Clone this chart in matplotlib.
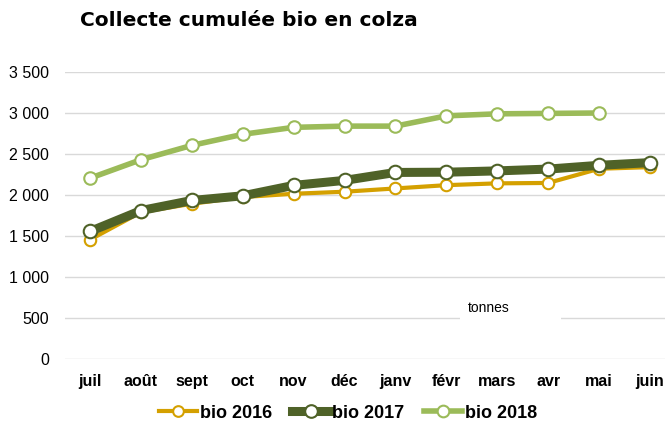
import matplotlib
matplotlib.use("Agg")
import matplotlib.pyplot as plt
from matplotlib.lines import Line2D
from matplotlib.patches import Rectangle

months = ["juil", "août", "sept", "oct", "nov", "déc", "janv", "févr", "mars", "avr", "mai", "juin"]
bio_2016 = [1455, 1790, 1893, 1975, 2015, 2040, 2080, 2120, 2142, 2147, 2320, 2340]
bio_2017 = [1555, 1810, 1933, 1990, 2117, 2178, 2275, 2278, 2294, 2316, 2362, 2395]
bio_2018 = [2205, 2430, 2605, 2740, 2825, 2840, 2840, 2965, 2990, 2995, 3000]
yticks = [0, 500, 1000, 1500, 2000, 2500, 3000, 3500]

plt.rcParams['font.family'] = ['Liberation Sans', 'DejaVu Sans']

W, H = 665, 423
fig = plt.figure(figsize=(W / 100, H / 100), dpi=100)
ax = fig.add_axes([64.5 / W, 1 - 359 / H, (665 - 64.5) / W, (359 - 72) / H])
step = (650 - 90) / 11

x = list(range(len(months)))
series = [
    (bio_2016, "#D4A000", 3, 11, "bio 2016"),
    (bio_2017, "#4F6228", 6.5, 13, "bio 2017"),
    (bio_2018, "#9BBB59", 4, 12, "bio 2018"),
]
for vals, col, lw, ms, lab in series:
    ax.plot(x[:len(vals)], vals, color=col, lw=lw, marker="o", ms=ms * 0.75,
            mfc="white", mec=col, mew=1.5, solid_capstyle="round", zorder=3)

ax.set_xlim(-0.5, (665 - 90) / step)
ax.set_ylim(0, 3500)
ax.set_yticks(yticks)
ax.set_yticklabels([f"{v:,}".replace(",", " ") for v in yticks], fontsize=11.5)
ax.set_xticks(x)
ax.set_xticklabels(months, fontsize=11.5, fontweight="bold")
ax.tick_params(length=0)
ax.tick_params(axis="x", pad=11)
ax.tick_params(axis="y", pad=11)
ax.grid(axis="y", color="#D9D9D9", lw=1)
ax.set_axisbelow(True)
for s in ax.spines.values():
    s.set_visible(False)

# white label box over the 500 gridline
bx0 = (460 - 90) / step
bx1 = (561 - 90) / step
ax.add_patch(Rectangle((bx0, 420), bx1 - bx0, 180, facecolor="white",
                       edgecolor="none", zorder=1.5))
ax.text((468 - 90) / step, (359 - 308) * 3500 / 287, "tonnes", ha="left",
        va="center", fontsize=10, zorder=2)

fig.text(80 / W, 1 - 21 / H, "Collecte cumulée bio en colza", fontsize=14.5,
         fontweight="heavy", va="center", ha="left", family="DejaVu Sans")

handles = [Line2D([0], [0], color=c, lw=lw, marker="o", ms=ms * 0.7, mfc="white",
                  mec=c, mew=1.5) for _, c, lw, ms, _ in series]
labels = [s[4] for s in series]
fig.legend(handles, labels, loc="center", bbox_to_anchor=(348 / W, 1 - 413 / H),
           ncol=3, frameon=False, prop={"weight": "bold", "size": 13},
           handlelength=2.1, handletextpad=0.15, columnspacing=1.1)

fig.savefig("out.png", dpi=100)
